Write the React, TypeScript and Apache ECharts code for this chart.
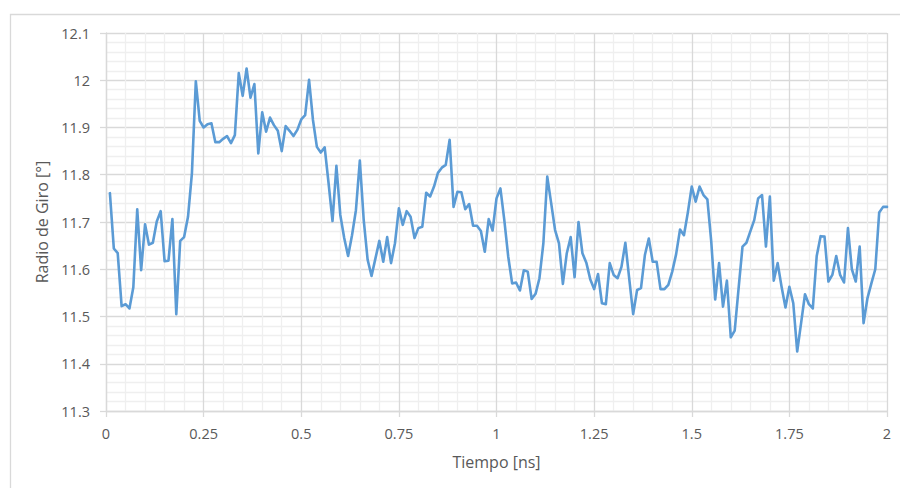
import React, { useEffect, useRef } from "react";
import * as echarts from "echarts";

// Sample times (ns): first sample and step between samples
const tiempoInicio = 0.01;
const pasoTiempo = 0.01;

// Radius of gyration values
const radioGiro: number[] = [
  11.761, 11.644, 11.634, 11.522, 11.526, 11.517, 11.562, 11.727, 11.598, 11.695,
  11.652, 11.656, 11.701, 11.723, 11.617, 11.618, 11.706, 11.505, 11.660, 11.668,
  11.711, 11.803, 11.998, 11.914, 11.900, 11.907, 11.909, 11.869, 11.869, 11.876,
  11.882, 11.867, 11.884, 12.015, 11.967, 12.025, 11.963, 11.992, 11.845, 11.932,
  11.891, 11.921, 11.905, 11.893, 11.850, 11.903, 11.893, 11.882, 11.895, 11.917,
  11.926, 12.001, 11.916, 11.859, 11.847, 11.858, 11.782, 11.702, 11.819, 11.715,
  11.666, 11.628, 11.672, 11.725, 11.830, 11.704, 11.620, 11.586, 11.623, 11.660,
  11.616, 11.668, 11.613, 11.655, 11.729, 11.694, 11.723, 11.711, 11.666, 11.687,
  11.690, 11.762, 11.754, 11.775, 11.804, 11.815, 11.821, 11.874, 11.732, 11.764,
  11.763, 11.727, 11.738, 11.692, 11.692, 11.681, 11.637, 11.706, 11.682, 11.750,
  11.771, 11.704, 11.627, 11.570, 11.572, 11.555, 11.598, 11.595, 11.537, 11.548,
  11.581, 11.655, 11.796, 11.740, 11.683, 11.655, 11.569, 11.634, 11.668, 11.583,
  11.700, 11.634, 11.614, 11.579, 11.558, 11.590, 11.528, 11.526, 11.613, 11.588,
  11.581, 11.605, 11.656, 11.579, 11.505, 11.556, 11.560, 11.630, 11.665, 11.616,
  11.616, 11.558, 11.558, 11.567, 11.595, 11.632, 11.684, 11.672, 11.720, 11.775,
  11.743, 11.775, 11.757, 11.748, 11.658, 11.536, 11.613, 11.521, 11.576, 11.456,
  11.470, 11.560, 11.648, 11.656, 11.680, 11.704, 11.750, 11.757, 11.648, 11.754,
  11.576, 11.613, 11.563, 11.519, 11.563, 11.528, 11.426, 11.486, 11.547, 11.526,
  11.517, 11.628, 11.670, 11.669, 11.574, 11.588, 11.628, 11.588, 11.572, 11.687,
  11.600, 11.574, 11.648, 11.486, 11.539, 11.570, 11.600, 11.720, 11.732, 11.732,
];

// Axis ranges / ticks
const xMin = 0;
const xMax = 2;
const xInterval = 0.25;
const yMin = 11.3;
const yMax = 12.1;
const yInterval = 0.1;

const xTitle = "Tiempo [ns]";
const yTitle = "Radio de Giro [°]";

const FONT = "'Open Sans', 'Liberation Sans', sans-serif";
const TEXT = "#595959";
const MAJOR = "#d9d9d9";
const MINOR = "#efefef";

export default function App() {
  const ref = useRef<HTMLDivElement>(null);

  useEffect(() => {
    if (!ref.current) return;
    const chart = echarts.init(ref.current, undefined, { renderer: "svg" });
    const data = radioGiro.map((v, i) => [
      Math.round((tiempoInicio + i * pasoTiempo) * 1000) / 1000,
      v,
    ]);

    chart.setOption({
      animation: false,
      backgroundColor: "#ffffff",
      textStyle: { fontFamily: FONT },
      graphic: [
        {
          type: "rect",
          left: 8,
          top: 12,
          silent: true,
          shape: { x: 0, y: 0, width: 900, height: 490 },
          style: { fill: "none", stroke: MAJOR, lineWidth: 1.3 },
        },
      ],
      grid: { left: 106, right: 13, top: 33, bottom: 77, containLabel: false },
      xAxis: {
        type: "value",
        min: xMin,
        max: xMax,
        interval: xInterval,
        name: xTitle,
        nameLocation: "middle",
        nameGap: 43,
        nameTextStyle: { color: TEXT, fontSize: 16, fontFamily: FONT },
        axisLine: { show: true, lineStyle: { color: MAJOR, width: 1.3 } },
        axisTick: { show: true, length: 6, lineStyle: { color: MAJOR, width: 1.3 } },
        axisLabel: {
          color: TEXT,
          fontSize: 14.5,
          fontFamily: FONT,
          margin: 15,
          formatter: (v: number) => String(Math.round(v * 100) / 100),
        },
        splitLine: { show: true, lineStyle: { color: MAJOR, width: 1.3 } },
        minorTick: { show: false, splitNumber: 5 },
        minorSplitLine: { show: true, lineStyle: { color: MINOR, width: 1.3 } },
      },
      yAxis: {
        type: "value",
        min: yMin,
        max: yMax,
        interval: yInterval,
        name: yTitle,
        nameLocation: "middle",
        nameGap: 54,
        nameTextStyle: { color: TEXT, fontSize: 16, fontFamily: FONT },
        axisLine: { show: true, lineStyle: { color: MAJOR, width: 1.3 } },
        axisTick: { show: true, length: 6, lineStyle: { color: MAJOR, width: 1.3 } },
        axisLabel: {
          color: TEXT,
          fontSize: 14.5,
          fontFamily: FONT,
          margin: 16,
          formatter: (v: number) => String(Math.round(v * 10) / 10),
        },
        splitLine: { show: true, lineStyle: { color: MAJOR, width: 1.3 } },
        minorTick: { show: false, splitNumber: 5 },
        minorSplitLine: { show: true, lineStyle: { color: MINOR, width: 1.3 } },
      },
      series: [
        {
          type: "line",
          data,
          showSymbol: false,
          symbol: "none",
          lineStyle: { color: "#5b9bd5", width: 2.6, join: "round", cap: "round" },
          itemStyle: { color: "#5b9bd5" },
        },
      ],
    });

    return () => chart.dispose();
  }, []);

  return (
    <div
      ref={ref}
      style={{ position: "absolute", left: 0, top: 0, width: 900, height: 488 }}
    />
  );
}
